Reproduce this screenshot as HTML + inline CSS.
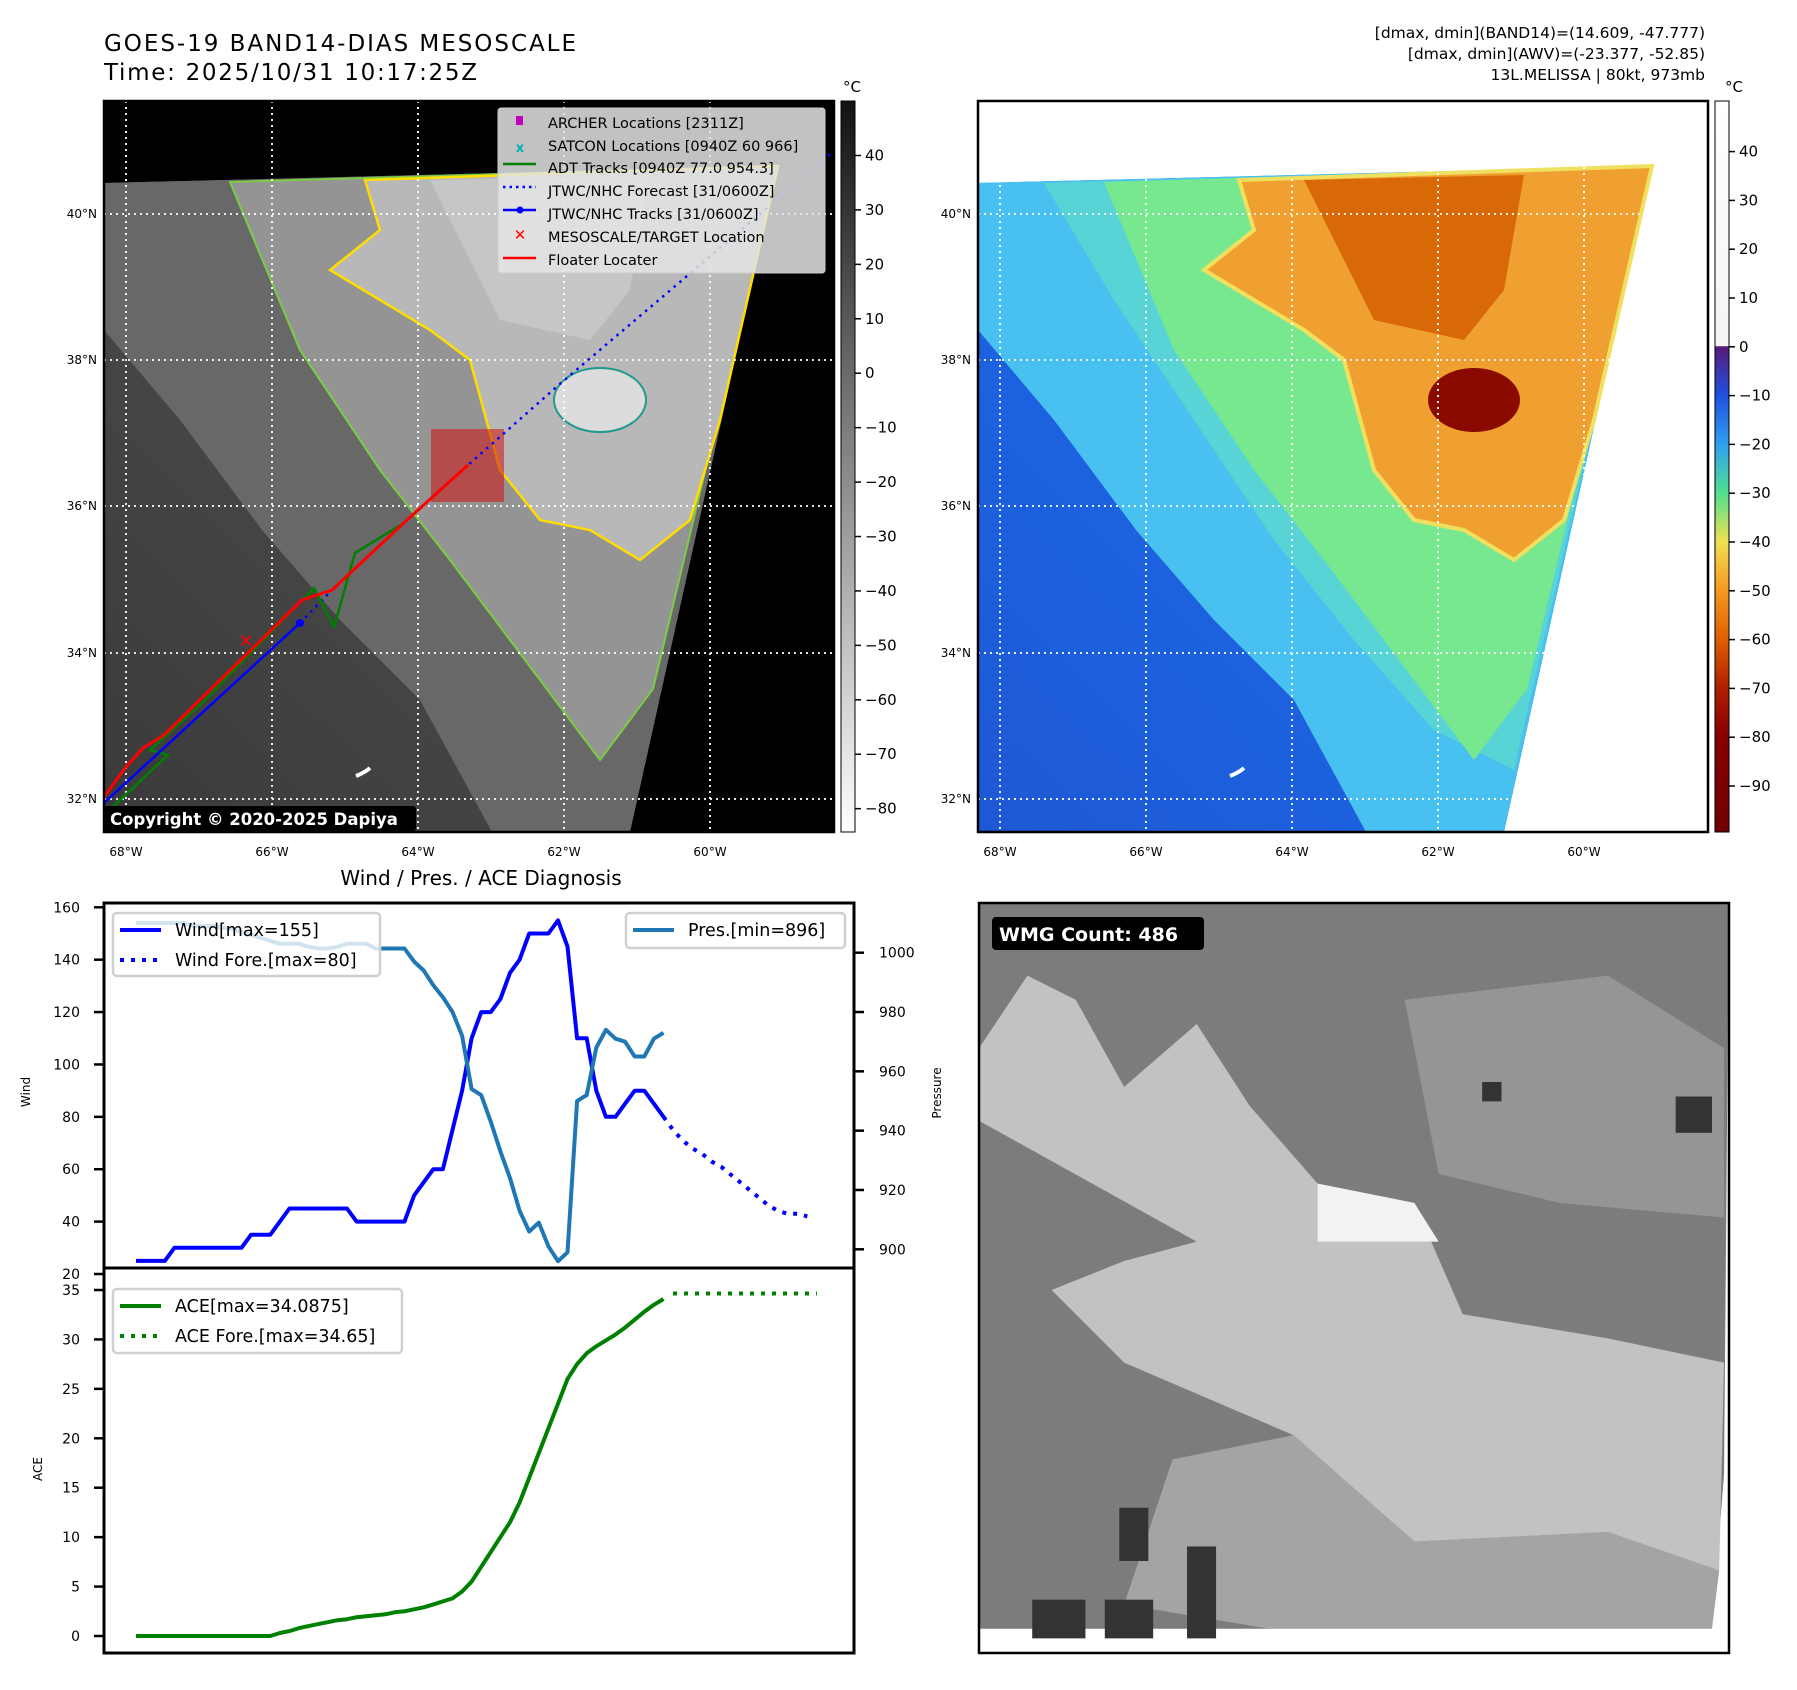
<!DOCTYPE html>
<html><head><meta charset="utf-8">
<style>
html,body{margin:0;padding:0;background:#fff;}
svg{display:block;font-family:"DejaVu Sans","Liberation Sans",sans-serif;}
</style></head>
<body>
<svg id="root" width="1797" height="1690" viewBox="0 0 1797 1690" xmlns="http://www.w3.org/2000/svg">
<defs>
  <linearGradient id="cbGray" x1="0" y1="0" x2="0" y2="1">
    <stop offset="0" stop-color="#111"/><stop offset="1" stop-color="#fff"/>
  </linearGradient>
  <linearGradient id="cbColor" x1="0" y1="0" x2="0" y2="1">
    <stop offset="0" stop-color="#ffffff"/>
    <stop offset="0.335" stop-color="#f4f4f4"/>
    <stop offset="0.336" stop-color="#5a1a7a"/>
    <stop offset="0.402" stop-color="#1f50e0"/>
    <stop offset="0.47" stop-color="#2fa0f0"/>
    <stop offset="0.536" stop-color="#50e090"/>
    <stop offset="0.603" stop-color="#f0e050"/>
    <stop offset="0.669" stop-color="#f59a20"/>
    <stop offset="0.735" stop-color="#e06000"/>
    <stop offset="0.802" stop-color="#b02000"/>
    <stop offset="0.869" stop-color="#880000"/>
    <stop offset="1" stop-color="#700000"/>
  </linearGradient>
  <linearGradient id="blueGrad" x1="0" y1="1" x2="1" y2="0">
    <stop offset="0" stop-color="#1e58d4"/><stop offset="0.5" stop-color="#1c66e4"/><stop offset="1" stop-color="#2a8cf0"/>
  </linearGradient>
  <linearGradient id="grayGrad" x1="0" y1="1" x2="1" y2="0">
    <stop offset="0" stop-color="#3a3a3a"/><stop offset="0.6" stop-color="#4c4c4c"/><stop offset="1" stop-color="#626262"/>
  </linearGradient>
  <clipPath id="clipL"><rect x="104" y="101" width="730" height="731"/></clipPath>
</defs>

<text x="104" y="51" font-size="23" textLength="472">GOES-19 BAND14-DIAS MESOSCALE</text>
<text x="104" y="80" font-size="23" textLength="373">Time: 2025/10/31 10:17:25Z</text>
<g font-size="15.5" text-anchor="end">
  <text x="1705" y="38">[dmax, dmin](BAND14)=(14.609, -47.777)</text>
  <text x="1705" y="59">[dmax, dmin](AWV)=(-23.377, -52.85)</text>
  <text x="1705" y="80">13L.MELISSA | 80kt, 973mb</text>
</g>

<!-- LEFT MAP -->
<g>
  <rect x="104" y="101" width="730" height="731" fill="#000"/>
  <g clip-path="url(#clipL)">
    <polygon points="104,183 778,166 630,832 104,832" fill="url(#grayGrad)"/>
    <polygon points="104,183 778,166 630,832 492,832 420,700 340,620 262,530 180,420 104,330" fill="#686868"/>
    <polygon points="230,182 778,166 653,689 600,760 540,680 450,560 380,470 300,350" fill="#949494" stroke="#7ccc44" stroke-width="2"/>
    <polygon points="365,180 778,166 720,420 690,520 640,560 590,530 540,520 500,470 470,360 430,330 380,300 330,270 380,230" fill="#b8b8b8" stroke="#ffdd00" stroke-width="2.5"/>
    <polygon points="430,180 650,175 630,290 590,340 500,320 460,240" fill="#c6c6c6"/>
    <ellipse cx="600" cy="400" rx="46" ry="32" fill="#dcdcdc" stroke="#1f9c8c" stroke-width="2"/>
    <path d="M356,776 q8,-3 14,-8" stroke="#fff" stroke-width="4" fill="none"/>
  </g>
  <g stroke="#fff" stroke-width="1.8" stroke-dasharray="2,4">
    <line x1="126" y1="101" x2="126" y2="832"/><line x1="272" y1="101" x2="272" y2="832"/><line x1="418" y1="101" x2="418" y2="832"/><line x1="564" y1="101" x2="564" y2="832"/><line x1="710" y1="101" x2="710" y2="832"/>
    <line x1="104" y1="214" x2="834" y2="214"/><line x1="104" y1="360" x2="834" y2="360"/><line x1="104" y1="506" x2="834" y2="506"/><line x1="104" y1="653" x2="834" y2="653"/><line x1="104" y1="799" x2="834" y2="799"/>
  </g>
  <rect x="431" y="429" width="73" height="73" fill="#d01010" opacity="0.55"/>
  <g clip-path="url(#clipL)" fill="none" stroke-linejoin="round">
    <polyline points="300,623 332,590 407,520 468,465 561,383 700,265 835,150" stroke="#0000ff" stroke-width="2.5" stroke-dasharray="2.5,5"/>
    <polyline points="104,815 168,755 150,750 200,705 302,600 314,588 334,627 355,553 404,523" stroke="#008000" stroke-width="2.5"/>
    <polyline points="104,803 300,623" stroke="#0000ff" stroke-width="2.5"/>
    <circle cx="300" cy="623" r="4" fill="#0000ff"/>
    <polyline points="104,797 125,768 143,748 164,735 302,600 332,590 407,520 468,465" stroke="#ff0000" stroke-width="3"/>
    <text x="246" y="647" font-size="18" fill="#ff0000" text-anchor="middle" font-weight="bold" stroke="none">✕</text>
  </g>
  <rect x="104" y="101" width="730" height="731" fill="none" stroke="#000" stroke-width="2.5"/>
  <g>
    <rect x="498" y="108" width="327" height="165" rx="3" fill="#e4e4e4" fill-opacity="0.85" stroke="#ccc"/>
    <rect x="516" y="116" width="7" height="9" fill="#c000c0"/>
    <text x="520" y="152" font-size="13" fill="#00b0b0" text-anchor="middle" font-weight="bold">x</text>
    <line x1="503" y1="164" x2="536" y2="164" stroke="#008000" stroke-width="2.5"/>
    <line x1="503" y1="187" x2="536" y2="187" stroke="#0000ff" stroke-width="2.5" stroke-dasharray="2.5,4"/>
    <line x1="503" y1="210" x2="536" y2="210" stroke="#0000ff" stroke-width="2.5"/><circle cx="520" cy="210" r="3.5" fill="#0000ff"/>
    <text x="520" y="240" font-size="15" fill="#ff0000" text-anchor="middle" font-weight="bold">✕</text>
    <line x1="503" y1="258" x2="536" y2="258" stroke="#ff0000" stroke-width="2.5"/>
    <g font-size="14.5" fill="#000">
      <text x="548" y="128">ARCHER Locations [2311Z]</text>
      <text x="548" y="151">SATCON Locations [0940Z 60 966]</text>
      <text x="548" y="173">ADT Tracks [0940Z 77.0 954.3]</text>
      <text x="548" y="196">JTWC/NHC Forecast [31/0600Z]</text>
      <text x="548" y="219">JTWC/NHC Tracks [31/0600Z]</text>
      <text x="548" y="242">MESOSCALE/TARGET Location</text>
      <text x="548" y="265">Floater Locater</text>
    </g>
  </g>
  <rect x="104" y="806" width="312" height="25" rx="3" fill="#000"/>
  <text x="110" y="825" font-size="16.5" font-weight="bold" fill="#fff">Copyright © 2020-2025 Dapiya</text>
</g>
<g font-size="12">
  <g text-anchor="end"><text x="97" y="218">40°N</text><text x="97" y="364">38°N</text><text x="97" y="510">36°N</text><text x="97" y="657">34°N</text><text x="97" y="803">32°N</text></g>
  <g text-anchor="middle"><text x="126" y="856">68°W</text><text x="272" y="856">66°W</text><text x="418" y="856">64°W</text><text x="564" y="856">62°W</text><text x="710" y="856">60°W</text></g>
</g>
<g>
  <rect x="841" y="101" width="14" height="731" fill="url(#cbGray)" stroke="#000" stroke-width="1"/>
  <text x="852" y="92" font-size="15" text-anchor="middle">°C</text>
  <g id="cbLticks" font-size="15"></g>
</g>

<!-- RIGHT MAP -->
<g>
  <rect x="978" y="101" width="730" height="731" fill="#fff"/>
  <g transform="translate(874,0)">
    <g clip-path="url(#clipL)">
      <polygon points="104,183 778,166 630,832 104,832" fill="url(#blueGrad)"/>
      <polygon points="104,183 778,166 630,832 492,832 420,700 340,620 262,530 180,420 104,330" fill="#48c0f0"/>
      <polygon points="170,183 778,166 640,770 560,730 480,640 400,540 320,420 240,300" fill="#5cd8d0" opacity="0.8"/>
      <polygon points="230,182 778,166 653,689 600,760 540,680 450,560 380,470 300,350" fill="#78e890"/>
      <polygon points="365,180 778,166 720,420 690,520 640,560 590,530 540,520 500,470 470,360 430,330 380,300 330,270 380,230" fill="#f0a030" stroke="#f0e060" stroke-width="4"/>
      <polygon points="430,180 650,175 630,290 590,340 500,320 460,240" fill="#d86808"/>
      <ellipse cx="600" cy="400" rx="46" ry="32" fill="#8a0a00"/>
      <path d="M356,776 q8,-3 14,-8" stroke="#fff" stroke-width="4" fill="none"/>
    </g>
  </g>
  <g stroke="#fff" stroke-width="1.8" stroke-dasharray="2,4">
    <line x1="1000" y1="101" x2="1000" y2="832"/><line x1="1146" y1="101" x2="1146" y2="832"/><line x1="1292" y1="101" x2="1292" y2="832"/><line x1="1438" y1="101" x2="1438" y2="832"/><line x1="1584" y1="101" x2="1584" y2="832"/>
    <line x1="978" y1="214" x2="1708" y2="214"/><line x1="978" y1="360" x2="1708" y2="360"/><line x1="978" y1="506" x2="1708" y2="506"/><line x1="978" y1="653" x2="1708" y2="653"/><line x1="978" y1="799" x2="1708" y2="799"/>
  </g>
  <rect x="978" y="101" width="730" height="731" fill="none" stroke="#000" stroke-width="2.5"/>
</g>
<g font-size="12">
  <g text-anchor="end"><text x="971" y="218">40°N</text><text x="971" y="364">38°N</text><text x="971" y="510">36°N</text><text x="971" y="657">34°N</text><text x="971" y="803">32°N</text></g>
  <g text-anchor="middle"><text x="1000" y="856">68°W</text><text x="1146" y="856">66°W</text><text x="1292" y="856">64°W</text><text x="1438" y="856">62°W</text><text x="1584" y="856">60°W</text></g>
</g>
<g>
  <rect x="1715" y="101" width="14" height="731" fill="url(#cbColor)" stroke="#000" stroke-width="1"/>
  <text x="1734" y="92" font-size="15" text-anchor="middle">°C</text>
  <g id="cbRticks" font-size="15"></g>
</g>

<!-- WMG pixel panel -->
<g>
  <rect x="979" y="903" width="750" height="750" fill="#fff"/>
  <g transform="translate(979,903) scale(0.4838)">
    <polygon points="0,0 1550,0 1540,1180 1515,1500 0,1530" fill="#7c7c7c"/>
    <polygon points="880,200 1300,150 1540,300 1540,650 1200,620 950,560" fill="#959595"/>
    <polygon points="0,300 100,150 200,200 300,380 450,250 560,420 700,580 900,620 1000,850 1300,900 1540,950 1530,1380 1300,1300 900,1320 650,1100 300,950 150,800 300,740 450,700 0,450" fill="#c2c2c2"/>
    <polygon points="650,1100 900,1320 1300,1300 1530,1380 1515,1500 600,1500 300,1450 400,1150" fill="#a4a4a4"/>
    <polygon points="700,580 900,620 950,700 700,700" fill="#f2f2f2"/>
    <polygon points="0,1500 1515,1500 1510,1530 0,1545" fill="#fff"/>
    <rect x="110" y="1440" width="110" height="80" fill="#333"/><rect x="260" y="1440" width="100" height="80" fill="#333"/><rect x="430" y="1330" width="60" height="190" fill="#333"/><rect x="290" y="1250" width="60" height="110" fill="#333"/><rect x="1040" y="370" width="40" height="40" fill="#333"/><rect x="1440" y="400" width="75" height="75" fill="#333"/>
  </g>
  <rect x="979" y="903" width="750" height="750" fill="none" stroke="#000" stroke-width="2.5"/>
  <rect x="992" y="917" width="212" height="33" rx="4" fill="#000"/>
  <text x="999" y="941" font-size="19" font-weight="bold" fill="#fff">WMG Count: 486</text>
</g>

<text x="481" y="885" font-size="20" text-anchor="middle">Wind / Pres. / ACE Diagnosis</text>
<g id="chart"></g>

<script>
const windObs = [25,25,25,25,30,30,30,30,30,30,30,30,35,35,35,40,45,45,45,45,45,45,45,40,40,40,40,40,40,50,55,60,60,75,90,110,120,120,125,135,140,150,150,150,155,145,110,110,90,80,80,85,90,90,85,80];
const windFore = [80,75,71,68,66,63,61,58,55,52,49,46,44,43,43,42];
const presObs = [1010,1010,1010,1010,1010,1010,1009,1009,1009,1008.5,1008,1007,1006,1005,1004,1003,1003,1003,1002,1001.4,1001.4,1002,1003,1003,1003,1001.4,1001.4,1001.4,1001.4,997,994,989,985,980,972,954,952,943,933,924,913,906,909,901,896,899,950,952,968,974,971,970,965,965,971,973];
const aceObs = [0,0,0,0,0,0,0,0,0,0,0,0,0,0,0,0.3,0.5,0.8,1.0,1.2,1.4,1.6,1.7,1.9,2.0,2.1,2.2,2.4,2.5,2.7,2.9,3.2,3.5,3.8,4.5,5.5,7,8.5,10,11.5,13.5,16,18.5,21,23.5,26,27.5,28.6,29.3,29.9,30.5,31.2,32,32.8,33.5,34.09];
const aceFore = [34.65,34.65,34.65,34.65,34.65,34.65,34.65,34.65,34.65,34.65,34.65,34.65,34.65,34.65,34.65,34.65];
const windTicks = [20,40,60,80,100,120,140,160];
const presTicks = [900,920,940,960,980,1000];
const aceTicks = [0,5,10,15,20,25,30,35];
const cbGrayTicks = [40,30,20,10,0,-10,-20,-30,-40,-50,-60,-70,-80];
const cbColorTicks = [40,30,20,10,0,-10,-20,-30,-40,-50,-60,-70,-80,-90];

const NS='http://www.w3.org/2000/svg';
function mk(tag, attrs, parent){const e=document.createElementNS(NS,tag);for(const k in attrs)e.setAttribute(k,attrs[k]);parent.appendChild(e);return e;}
const xIdx = i => 136 + i*9.59;
const yWind = v => 1274 - (v-20)*(1274-907.3)/140;
const yPres = v => 1249.3 - (v-900)*(1249.3-952.7)/100;
const yAce = v => 1636 - v*(1636-1290)/35;
const yCbL = v => 155.5 - (v-40)*5.443;
const yCbR = v => 151.6 - (v-40)*4.88;

const chart=document.getElementById('chart');
function pts(arr, y, off){return arr.map((v,i)=>xIdx(i+off).toFixed(1)+','+y(v).toFixed(1)).join(' ');}

const f1=mk('rect',{x:104,y:903,width:750,height:365,fill:'none',stroke:'#000','stroke-width':3},chart);


const f2=mk('rect',{x:104,y:1268,width:750,height:385,fill:'none',stroke:'#000','stroke-width':3},chart);



windTicks.forEach(v=>{const y=yWind(v);mk('line',{x1:94,y1:y,x2:104,y2:y,stroke:'#000','stroke-width':2.5},chart);
  const t=mk('text',{x:80,y:y+5,'font-size':14,'text-anchor':'end'},chart);t.textContent=v;
  
  });
presTicks.forEach(v=>{const y=yPres(v);mk('line',{x1:854,y1:y,x2:864,y2:y,stroke:'#000','stroke-width':2.5},chart);
  const t=mk('text',{x:879,y:y+5,'font-size':14},chart);t.textContent=v;
  
  });
aceTicks.forEach(v=>{const y=yAce(v);mk('line',{x1:94,y1:y,x2:104,y2:y,stroke:'#000','stroke-width':2.5},chart);
  const t=mk('text',{x:80,y:y+5,'font-size':14,'text-anchor':'end'},chart);t.textContent=v;
  
  });
[['Wind',30,1092],['ACE',42,1469]].forEach(a=>{const t=mk('text',{x:a[1],y:a[2],'font-size':12,'text-anchor':'middle',transform:`rotate(-90 ${a[1]} ${a[2]})`},chart);t.textContent=a[0];
  
  });
{const t=mk('text',{x:941,y:1093,'font-size':12,'text-anchor':'middle',transform:'rotate(-90 941 1093)'},chart);t.textContent='Pressure';
  
  }

const wl=mk('polyline',{points:pts(windObs,yWind,0),fill:'none',stroke:'#0000ff','stroke-width':4,'stroke-linejoin':'round'},chart);


const wf=mk('polyline',{points:pts(windFore,yWind,windObs.length-1),fill:'none',stroke:'#0000ff','stroke-width':4,'stroke-dasharray':'4,7'},chart);


const pl=mk('polyline',{points:pts(presObs,yPres,0),fill:'none',stroke:'#1f77b4','stroke-width':4,'stroke-linejoin':'round'},chart);


const al=mk('polyline',{points:pts(aceObs,yAce,0),fill:'none',stroke:'#008000','stroke-width':4,'stroke-linejoin':'round'},chart);


const af=mk('polyline',{points:pts(aceFore,yAce,aceObs.length),fill:'none',stroke:'#008000','stroke-width':4,'stroke-dasharray':'4,7'},chart);



function legend(x,y,w,h,items,name){const g=mk('g',{},chart);
  
  
  mk('rect',{x:x,y:y,width:w,height:h,rx:4,fill:'#fff','fill-opacity':0.8,stroke:'#d0d0d0','stroke-width':2.5},g);
  items.forEach((it,i)=>{const cy=y+17+i*30;
    const a={x1:x+7,y1:cy,x2:x+48,y2:cy,stroke:it[1],'stroke-width':4};if(it[2])a['stroke-dasharray']='4,7';mk('line',a,g);
    const t=mk('text',{x:x+62,y:cy+6,'font-size':17.5},g);t.textContent=it[0];});}
legend(113,913,267,63,[['Wind[max=155]','#0000ff',0],['Wind Fore.[max=80]','#0000ff',1]],'wind-legend');
legend(626,913,219,35,[['Pres.[min=896]','#1f77b4',0]],'pressure-legend');
legend(113,1289,289,64,[['ACE[max=34.0875]','#008000',0],['ACE Fore.[max=34.65]','#008000',1]],'ace-legend');

const gl=document.getElementById('cbLticks');
cbGrayTicks.forEach(v=>{const y=yCbL(v);mk('line',{x1:855,y1:y,x2:861,y2:y,stroke:'#000','stroke-width':1.5},gl);
  const t=mk('text',{x:865,y:y+5},gl);t.textContent=(v<0?'\u2212'+(-v):v);
  
  });
const gr=document.getElementById('cbRticks');
cbColorTicks.forEach(v=>{const y=yCbR(v);mk('line',{x1:1729,y1:y,x2:1735,y2:y,stroke:'#000','stroke-width':1.5},gr);
  const t=mk('text',{x:1739,y:y+5},gr);t.textContent=(v<0?'\u2212'+(-v):v);
  
  });
</script>
</svg>
</body></html>
